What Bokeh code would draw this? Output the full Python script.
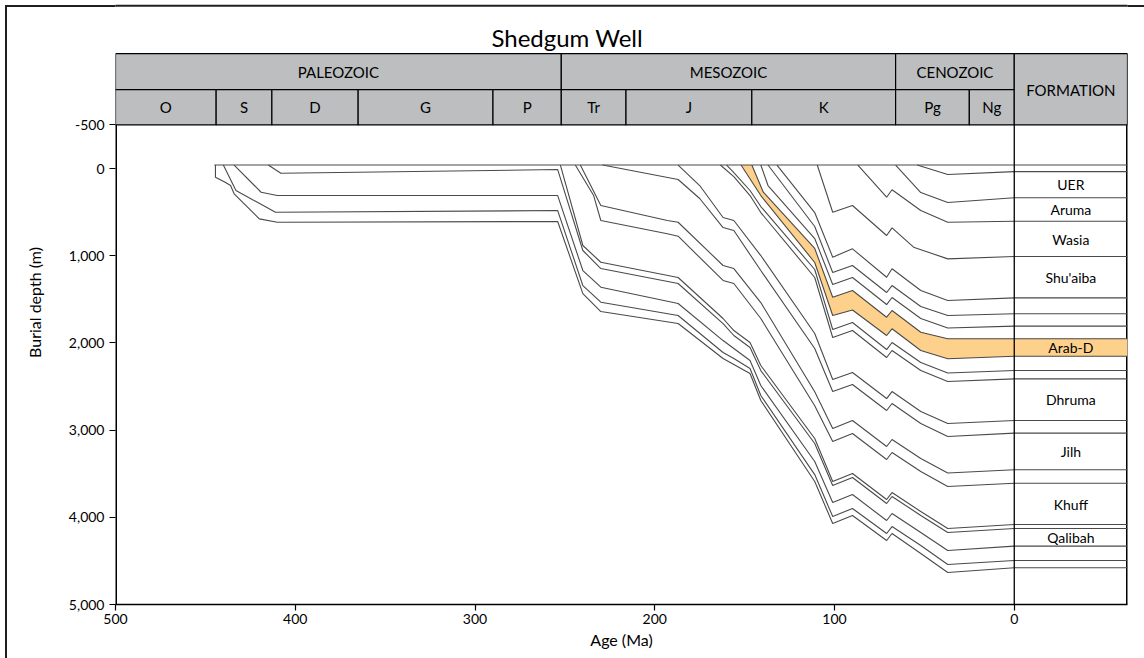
from bokeh.plotting import figure
from bokeh.models import Range1d, FixedTicker, NumeralTickFormatter
from bokeh.embed import file_html
from bokeh.resources import INLINE
from bokeh.core.properties import value

FONT = "Lato"

# ---- header (geologic time scale) ----
TITLE = "Shedgum  Well"
ERAS = ["PALEOZOIC", "MESOZOIC", "CENOZOIC"]
ERA_START = [500, 252, 66]
ERA_END = [252, 66, 0]
PERIODS = ["O", "S", "D", "G", "P", "Tr", "J", "K", "Pg", "Ng"]
PERIOD_START = [500, 444, 413, 365, 290, 252, 216, 146, 66, 25]
PERIOD_END = [444, 413, 365, 290, 252, 216, 146, 66, 25, 0]

# ---- formation column ----
FORMATIONS = ["UER", "Aruma", "Wasia", "Shu'aiba", "Arab-D", "Dhruma", "Jilh", "Khuff", "Qalibah"]
FORMATION_DEPTH = [183, 470, 814, 1250, 2053, 2649, 3245, 3853, 4232]

# ---- burial curves: age (Ma) and depth (m) ----
SURF_AGE = [445, -63]
SURF_DEPTH = [-40, -40]
L1_AGE = [54, 37, 0, -63]
L1_DEPTH = [-40, 69, 35, 35]
L2_AGE = [66, 52, 37, 0, -63]
L2_DEPTH = [-40, 275, 390, 336, 336]
L3_AGE = [87, 71, 68, 52, 37, 0, -63]
L3_DEPTH = [-40, 329, 244, 482, 616, 604, 604]
L4_AGE = [109.6, 101, 90, 71, 68, 56, 37, 0, -63]
L4_DEPTH = [-40, 501, 424, 768, 680, 902, 1036, 1009, 1009]
L5_AGE = [132, 111, 101, 90, 71, 68, 52, 37, 0, -63]
L5_DEPTH = [-40, 505, 1017, 921, 1247, 1150, 1399, 1514, 1483, 1483]
L6_AGE = [137, 111, 101, 90, 71, 68, 52, 37, 0, -63]
L6_DEPTH = [-40, 665, 1193, 1112, 1422, 1342, 1583, 1686, 1666, 1666]
L7_AGE = [141, 137, 111, 101, 90, 71, 68, 52, 37, 0, -63]
L7_DEPTH = [-40, 195, 803, 1330, 1250, 1560, 1479, 1720, 1829, 1808, 1808]
L8_AGE = [146, 139.6, 111, 101, 90, 71, 68, 52, 37, 0, -63]
L8_DEPTH = [-40, 272, 917, 1476, 1399, 1705, 1628, 1877, 1953, 1953, 1953]
L9_AGE = [152, 141, 111, 101, 90, 71, 68, 52, 37, 0, -63]
L9_DEPTH = [-40, 310, 1078, 1686, 1622, 1915, 1838, 2087, 2182, 2153, 2153]
L10_AGE = [160, 156, 147, 141, 111, 101, 90, 71, 68, 52, 37, 0, -63]
L10_DEPTH = [-40, 46, 252, 436, 1158, 1846, 1766, 2076, 1995, 2225, 2345, 2317, 2317]
L11_AGE = [163.5, 156, 147, 141, 111, 101, 90, 71, 68, 52, 37, 0, -63]
L11_DEPTH = [-40, 92, 310, 505, 1250, 1938, 1858, 2167, 2087, 2317, 2443, 2412, 2412]
L12_AGE = [187, 175, 162, 156, 141, 111, 101, 90, 71, 68, 52, 37, 0, -63]
L12_DEPTH = [-40, 195, 562, 596, 998, 1892, 2420, 2339, 2638, 2558, 2787, 2924, 2890, 2890]
L13_AGE = [229, 187, 175, 162, 156, 141, 111, 101, 90, 71, 68, 52, 37, 0, -63]
L13_DEPTH = [-40, 126, 344, 677, 711, 1170, 2064, 2558, 2477, 2775, 2695, 2924, 3073, 3035, 3035]
L14_AGE = [241.4, 230, 193, 187, 162, 156, 141, 111, 101, 90, 71, 68, 52, 37, 0, -63]
L14_DEPTH = [-40, 424, 596, 616, 1112, 1147, 1537, 2560, 2982, 2890, 3188, 3108, 3326, 3492, 3455, 3455]
L15_AGE = [244.2, 234, 230, 193, 187, 162, 156, 141, 111, 101, 90, 71, 68, 52, 37, 0, -63]
L15_DEPTH = [-40, 310, 596, 749, 776, 1284, 1319, 1720, 2720, 3131, 3039, 3337, 3257, 3475, 3647, 3609, 3609]
L16_AGE = [252.5, 240, 230, 187, 162, 156, 147, 141, 111, 101, 90, 71, 68, 52, 37, 0, -63]
L16_DEPTH = [-40, 883, 1075, 1250, 1720, 1858, 1995, 2259, 3096, 3589, 3498, 3796, 3716, 3934, 4128, 4083, 4083]
L17_AGE = [415, 408, 254, 240, 230, 187, 162, 156, 147, 141, 111, 101, 90, 71, 68, 52, 37, 0, -63]
L17_DEPTH = [-40, 54, 12, 940, 1147, 1319, 1778, 1915, 2053, 2317, 3154, 3635, 3544, 3842, 3761, 3979, 4174, 4128, 4128]
L18_AGE = [434, 419, 410, 254, 240, 230, 187, 162, 156, 147, 141, 111, 101, 90, 71, 68, 52, 37, 0, -63]
L18_DEPTH = [-40, 272, 310, 310, 1170, 1361, 1548, 1973, 2064, 2202, 2489, 3360, 3830, 3739, 4037, 3956, 4174, 4381, 4331, 4331]
L19_AGE = [440, 433, 411, 254, 240, 230, 187, 162, 156, 147, 141, 111, 101, 90, 71, 68, 52, 37, 0, -63]
L19_DEPTH = [-40, 252, 501, 482, 1342, 1533, 1686, 2110, 2179, 2294, 2603, 3510, 3991, 3899, 4186, 4106, 4323, 4541, 4495, 4495]
L20_AGE = [444.4, 444.4, 439, 436, 434, 420, 410, 254, 240, 230, 187, 162, 156, 147, 141, 111, 101, 90, 71, 68, 52, 37, 0, -63]
L20_DEPTH = [-40, 100, 157, 195, 290, 577, 616, 608, 1434, 1640, 1778, 2179, 2248, 2351, 2661, 3590, 4071, 3979, 4266, 4186, 4415, 4633, 4579, 4579]

CURVES = [
    (SURF_AGE, SURF_DEPTH), (L1_AGE, L1_DEPTH), (L2_AGE, L2_DEPTH), (L3_AGE, L3_DEPTH),
    (L4_AGE, L4_DEPTH), (L5_AGE, L5_DEPTH), (L6_AGE, L6_DEPTH), (L7_AGE, L7_DEPTH),
    (L8_AGE, L8_DEPTH), (L9_AGE, L9_DEPTH), (L10_AGE, L10_DEPTH), (L11_AGE, L11_DEPTH),
    (L12_AGE, L12_DEPTH), (L13_AGE, L13_DEPTH), (L14_AGE, L14_DEPTH), (L15_AGE, L15_DEPTH),
    (L16_AGE, L16_DEPTH), (L17_AGE, L17_DEPTH), (L18_AGE, L18_DEPTH), (L19_AGE, L19_DEPTH),
    (L20_AGE, L20_DEPTH),
]

# layout constants (vertical positions in depth units)
Y_TOP = -1927
FRAME_LINE = -1868
TITLE_Y = -1502
HEADER_TOP = -1318
HEADER_MID = -906
HEADER_BOTTOM = -500
X_LEFT = 500
X_MIN = -63
TITLE_X = 247

p = figure(width=1144, height=658,
           x_range=Range1d(X_LEFT, X_MIN), y_range=Range1d(5000, Y_TOP),
           output_backend="svg", toolbar_location=None,
           min_border_left=115, min_border_right=17, min_border_top=0, min_border_bottom=54)
p.styles = {"box-shadow": "inset 5px 5px 0 0 #ffffff, inset 7px 7px 0 0 #231f20"}
p.background_fill_color = "white"
p.border_fill_color = None
p.outline_line_color = None
p.grid.visible = False

# axes
p.xaxis.ticker = FixedTicker(ticks=[500, 400, 300, 200, 100, 0])
p.yaxis.ticker = FixedTicker(ticks=[-500, 0, 1000, 2000, 3000, 4000, 5000])
p.yaxis.formatter = NumeralTickFormatter(format="0,0")
p.xaxis.axis_label = "Age (Ma)"
p.yaxis.axis_label = "Burial depth (m)"
for ax in (p.xaxis, p.yaxis):
    ax.minor_tick_line_color = None
    ax.major_tick_in = 0
    ax.major_tick_out = 6
    ax.axis_line_width = 1.5
    ax.axis_line_color = "black"
    ax.major_tick_line_color = "black"
    ax.major_tick_line_width = 1.2
    ax.major_label_text_font = FONT
    ax.major_label_text_font_size = "14px"
    ax.major_label_text_color = "black"
    ax.axis_label_text_font = FONT
    ax.axis_label_text_font_size = "16px"
    ax.axis_label_text_font_style = "normal"
    ax.axis_label_text_color = "black"
p.yaxis.axis_line_color = None
p.xaxis.major_label_standoff = 3
p.xaxis.axis_label_standoff = 3
p.yaxis.major_label_standoff = 5
p.yaxis.axis_label_standoff = 22

# outer frame line (top) and plot borders
p.segment(x0=[X_LEFT + 20], y0=[FRAME_LINE], x1=[X_MIN - 20], y1=[FRAME_LINE], line_color="#231f20", line_width=2)
p.segment(x0=[X_LEFT, X_MIN], y0=[HEADER_BOTTOM, HEADER_TOP], x1=[X_LEFT, X_MIN], y1=[5000, 5000],
          line_color="black", line_width=3)

# header
p.quad(left=ERA_START, right=ERA_END, top=[HEADER_TOP] * len(ERAS), bottom=[HEADER_MID] * len(ERAS),
       fill_color="#BCBEC0", line_color="black", line_width=1.2)
p.quad(left=PERIOD_START, right=PERIOD_END, top=[HEADER_MID] * len(PERIODS),
       bottom=[HEADER_BOTTOM] * len(PERIODS), fill_color="#BCBEC0", line_color="black", line_width=1.2)
p.quad(left=[0], right=[X_MIN], top=[HEADER_TOP], bottom=[HEADER_BOTTOM],
       fill_color="#BCBEC0", line_color="black", line_width=1.2)
p.text(x=[(a + b) / 2 for a, b in zip(ERA_START, ERA_END)], y=[(HEADER_TOP + HEADER_MID) / 2] * len(ERAS),
       text=ERAS, text_font=value(FONT), text_font_size=value("15px"), text_align="center",
       text_baseline="middle", text_color="black")
p.text(x=[(a + b) / 2 for a, b in zip(PERIOD_START, PERIOD_END)], y=[(HEADER_MID + HEADER_BOTTOM) / 2] * len(PERIODS),
       text=PERIODS, text_font=value(FONT), text_font_size=value("15px"), text_align="center",
       text_baseline="middle", text_color="black")
p.text(x=[X_MIN / 2], y=[HEADER_MID], text=["FORMATION"], text_font=value(FONT),
       text_font_size=value("15px"), text_align="center", text_baseline="middle", text_color="black")

# title
p.text(x=[TITLE_X], y=[TITLE_Y], text=[TITLE], text_font=value(FONT), text_font_size=value("24px"),
       text_align="center", text_baseline="middle", text_color="black")

# Arab-D fill
p.patch(x=L8_AGE + L9_AGE[::-1], y=L8_DEPTH + L9_DEPTH[::-1], fill_color="#FDD08C", line_color=None)

# curves
p.multi_line(xs=[c[0] for c in CURVES], ys=[c[1] for c in CURVES], line_color="#4a4a4a", line_width=1.1)

# formation column divider
p.segment(x0=[0], y0=[HEADER_BOTTOM], x1=[0], y1=[5000], line_color="black", line_width=1.3)

p.text(x=[X_MIN / 2] * len(FORMATIONS), y=FORMATION_DEPTH, text=FORMATIONS, text_font=value(FONT),
       text_font_size=value("14px"), text_align="center", text_baseline="middle", text_color="black")

open("out.html", "w").write(file_html(p, INLINE))
